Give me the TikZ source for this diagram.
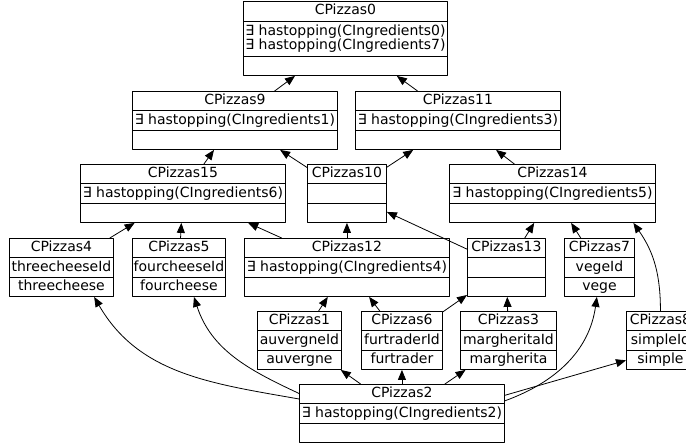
\documentclass[tikz,border=0pt]{standalone}
\usepackage{fontspec}
\setmainfont{DejaVu Sans}
\usetikzlibrary{arrows.meta}
\begin{document}
\begin{tikzpicture}[x=1pt,y=1pt,>={Triangle[length=10pt,width=8pt]},line join=round,font=\fontsize{14}{14}\selectfont]
\useasboundingbox (0,0) rectangle (686,-445);
\tikzset{box/.style={draw,line width=.9pt,anchor=north west,inner sep=0pt,minimum height=58pt},
	txt/.style={inner sep=0pt,text height=10.5pt,text depth=3pt},
	isa/.style={->,line width=.8pt}}
% top class with two attribute lines
\node[box,minimum width=204pt,minimum height=74pt] (P_0) at (243,-1) {};
\draw[line width=.9pt]
([yshift=-20pt]P_0.north west) -- ([yshift=-20pt]P_0.north east)
([yshift=-55pt]P_0.north west) -- ([yshift=-55pt]P_0.north east);
\node[txt] (t_0) at ([yshift=-10pt]P_0.north) {CPizzas0};
\node[inner sep=0pt,align=left] (a_0) at ([yshift=-37.5pt]P_0.north) {∃ hastopping(CIngredients0)\\∃ hastopping(CIngredients7)};
% the other classes: number/x/y/width/attribute/value
\foreach \n/\x/\y/\w/\a/\o in {
	9/132/91/205/{∃ hastopping(CIngredients1)}/{},
	11/355/91/205/{∃ hastopping(CIngredients3)}/{},
	15/80/164/205/{∃ hastopping(CIngredients6)}/{},
	10/307/164/79/{}/{},
	14/449/164/206/{∃ hastopping(CIngredients5)}/{},
	4/9/238/104/{threecheeseId}/{threecheese},
	5/132/238/93/{fourcheeseId}/{fourcheese},
	12/244/238/205/{∃ hastopping(CIngredients4)}/{},
	13/467/238/78/{}/{},
	7/564/238/70/{vegeId}/{vege},
	1/257/311/84/{auvergneId}/{auvergne},
	6/361/311/81/{furtraderId}/{furtrader},
	3/460/311/96/{margheritaId}/{margherita},
	8/626/311/68/{simpleId}/{simple},
	2/299/384/205/{∃ hastopping(CIngredients2)}/{}}
{
	\node[box,minimum width=\w pt] (P_\n) at (\x,-\y) {};
	\draw[line width=.9pt]
	([yshift=-19.5pt]P_\n.north west) -- ([yshift=-19.5pt]P_\n.north east)
	([yshift=-39pt]P_\n.north west) -- ([yshift=-39pt]P_\n.north east);
	\node[txt] (t_\n) at ([yshift=-9.75pt]P_\n.north) {CPizzas\n};
	\node[txt] (a_\n) at ([yshift=-29.25pt]P_\n.north) {\a};
	\node[txt] (o_\n) at ([yshift=-48.75pt]P_\n.north) {\o};
}
\foreach \s/\t in {9/0,11/0,15/9,10/9,10/11,14/11,4/15,5/15,12/15,12/10,13/10,13/14,7/14,1/12,6/12,6/13,3/13,2/1,2/6,2/3}
\draw[isa] (P_\s) -- (P_\t);
\draw[isa] (P_2.172) to[out=170,in=-60] (P_4.318);
\draw[isa] (P_2.169) to[out=155,in=-72] (P_5.297);
\draw[isa] (P_2.7) to[out=20,in=-98] (P_7.265);
\draw[isa] (P_2.10) -- (P_8.210);
\draw[isa] (P_8.north) to[out=90,in=-55] (P_14.340);
\end{tikzpicture}
\end{document}
